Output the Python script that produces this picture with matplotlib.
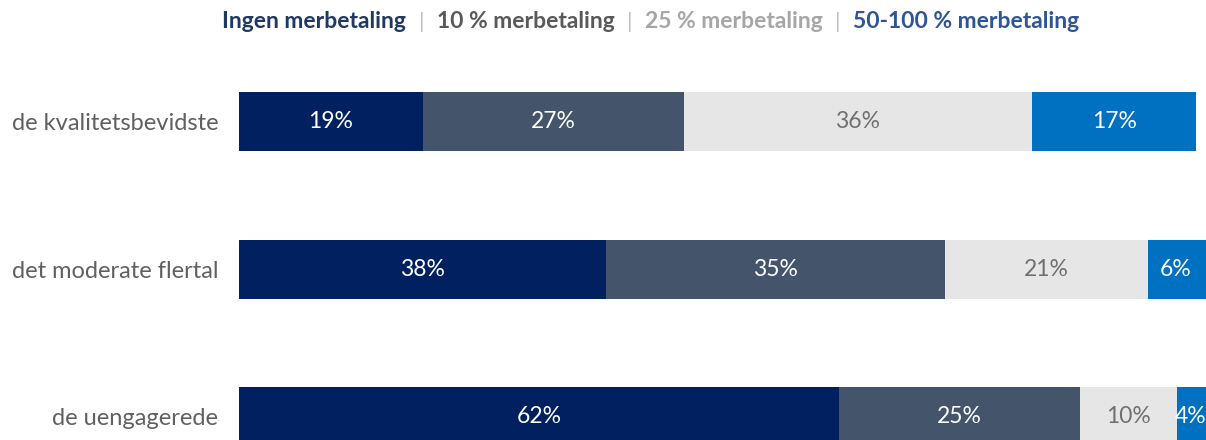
import matplotlib.pyplot as plt
from matplotlib.offsetbox import TextArea, HPacker, AnnotationBbox

plt.rcParams['font.family'] = ['Lato', 'DejaVu Sans']

segments = ["Ingen merbetaling", "10 % merbetaling", "25 % merbetaling", "50-100 % merbetaling"]
groups = ["de kvalitetsbevidste", "det moderate flertal", "de uengagerede"]
ingen = [19, 38, 62]
ti = [27, 35, 25]
tyvefem = [36, 21, 10]
halvtreds = [17, 6, 4]

bar_colors = ["#002060", "#44546A", "#E7E6E6", "#0070C0"]
text_colors = ["white", "white", "#707070", "white"]
legend_colors = ["#1F3864", "#595959", "#A6A6A6", "#2F5597"]

fig = plt.figure(figsize=(12.06, 4.4), dpi=100)
ax = fig.add_axes([239 / 1206, 0, 967 / 1206, 390 / 440])

xmax = 100
series = [ingen, ti, tyvefem, halvtreds]
left = [0] * len(groups)
for vals, col, tcol in zip(series, bar_colors, text_colors):
    bars = ax.barh(range(len(groups)), vals, left=left, height=0.4, color=col)
    for b, v in zip(bars, vals):
        # centre the label on the part of the bar that is inside the axes
        x0 = b.get_x()
        x1 = min(x0 + b.get_width(), xmax - 0.2)
        ax.text((x0 + x1) / 2, b.get_y() + b.get_height() / 2,
                f"{v}%", ha="center", va="center", color=tcol, fontsize=16.5)
    left = [l + v for l, v in zip(left, vals)]

ax.set_xlim(0, xmax)
ax.set_ylim(2.159, -0.485)
ax.set_yticks(range(len(groups)))
ax.set_yticklabels(groups, fontsize=17, color="#606060")
ax.tick_params(axis="y", length=0, pad=15)
ax.set_xticks([])
for s in ax.spines.values():
    s.set_visible(False)

# header legend: coloured names separated by thin bars
parts = []
for i, (name, c) in enumerate(zip(segments, legend_colors)):
    if i > 0:
        parts.append(TextArea("|", textprops=dict(color="#BFBFBF", fontsize=16)))
    parts.append(TextArea(name, textprops=dict(color=c, fontsize=16.5, fontweight="bold")))
box = HPacker(children=parts, pad=0, sep=9, align="baseline")
ab = AnnotationBbox(box, (651 / 1206, 1 - 22 / 440), xycoords="figure fraction",
                    frameon=False, box_alignment=(0.5, 0.5))
fig.add_artist(ab)

fig.savefig("out.png", dpi=100)
